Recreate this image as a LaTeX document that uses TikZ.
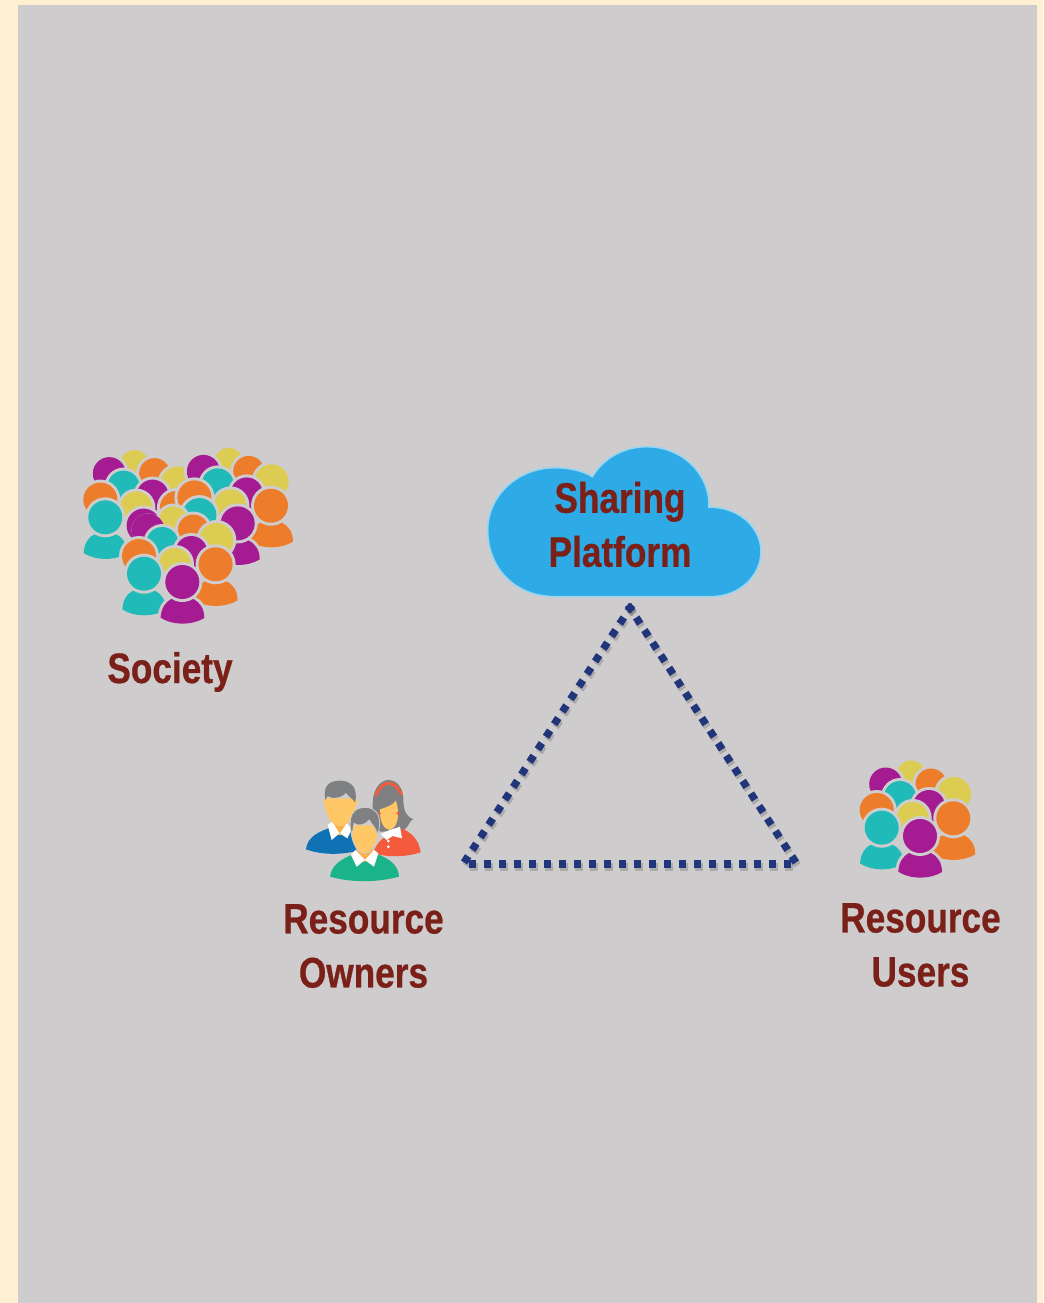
\documentclass[tikz,border=0pt]{standalone}
\usepackage{fontspec}
\setmainfont[FakeStretch=0.825,BoldFeatures={FakeBold=0.6}]{Liberation Sans}
\definecolor{bgc}{HTML}{CFCCCD}
\definecolor{frame}{HTML}{FFF0D2}
\definecolor{lbl}{HTML}{7A2018}
\definecolor{pur}{HTML}{A51C92}
\definecolor{tea}{HTML}{20BBB8}
\definecolor{ora}{HTML}{EE7D2B}
\definecolor{yel}{HTML}{DCCC52}
\definecolor{cld}{HTML}{2EABE6}
\definecolor{cldl}{HTML}{9AD5F0}
\definecolor{tri}{HTML}{21357A}
\definecolor{skin}{HTML}{FFC766}
\definecolor{neck}{HTML}{FBB04C}
\definecolor{hair}{HTML}{7F8082}
\definecolor{blu}{HTML}{0E72B5}
\definecolor{redd}{HTML}{F45B3C}
\definecolor{grn}{HTML}{1BB389}
% a head with its gap; the front figures also get shoulders
\newcommand\headicon[5]{%
 \begin{scope}[shift={(#1,#2)}]
  \path[fill=bgc] (0,0) circle (#4+#5);
  \path[fill=#3] (0,0) circle (#4);
 \end{scope}}
\newcommand\personicon[3]{%
 \begin{scope}[shift={(#1,#2)}]
  \def\bodypath{(-21.7,35.7) .. controls (-21,26) and (-17,20) .. (-11,17) -- (11,17) .. controls (17,20) and (22,26) .. (22,36) .. controls (10,43.5) and (-10,43.5) .. (-21.7,35.7) -- cycle}
  \path[draw=bgc,fill=bgc,line width=4.5pt] \bodypath;
  \path[fill=#3] \bodypath;
  \path[fill=bgc] (0,0) circle (20);
  \path[fill=#3] (0,0) circle (17);
 \end{scope}}
\newcommand\crowd[3]{%
 \begin{scope}[shift={(#1,#2)}]
  \headicon{911}{775}{yel}{14.5}{3}
  \headicon{885.7}{784}{pur}{16.5}{#3}
  \headicon{931}{784}{ora}{15.5}{3}
  \headicon{900}{797}{tea}{16}{3}
  \headicon{954}{794}{yel}{17}{3}
  \headicon{929}{806}{pur}{16}{3}
  \headicon{876.7}{810}{ora}{17}{3}
  \headicon{912.7}{818}{yel}{16}{3}
  \personicon{953.3}{818.3}{ora}
  \personicon{881.7}{827.7}{tea}
  \personicon{920}{836}{pur}
 \end{scope}}
\tikzset{
 lab/.style={text=lbl,font=\fontsize{32pt}{40.5pt}\selectfont\bfseries,align=center,inner sep=0pt},
 dots/.style={draw=tri,line width=5.6pt,dash pattern=on 5.6pt off 5.65pt},
 dotshadow/.style={draw=black,opacity=.17,line width=5.6pt,dash pattern=on 5.6pt off 5.65pt,transform canvas={xshift=1.1pt,yshift=-2.2pt}}
}
\begin{document}
\begin{tikzpicture}[x=.75pt,y=-.75pt]
\useasboundingbox (0,0) rectangle (1043,1303);
\fill[frame] (0,0) rectangle (1043,1303);
\fill[bgc] (18,5) rectangle (1037,1303);
% crowds
\crowd{-776.4}{-310.4}{3}
\crowd{-682.3}{-312.6}{3}
\crowd{-737.7}{-254}{0}
\crowd{0}{0}{3}
% cloud
\begin{scope}[shift={(475,435)},x=.25pt,y=-.25pt]
 \path[fill=cld,draw=cldl,line width=1.2pt]
  (240,485) .. controls (120,485) and (38,400) .. (38,285)
  .. controls (38,180) and (130,98) .. (240,98)
  .. controls (285,98) and (325,108) .. (352,125)
  .. controls (385,70) and (445,35) .. (515,35)
  .. controls (620,35) and (705,115) .. (702,216)
  .. controls (790,216) and (858,275) .. (858,350)
  .. controls (858,425) and (790,485) .. (710,485) -- cycle;
\end{scope}
\node[lab] (cloudlabel) at (620,524.5) {Sharing\\Platform};
% triangle
\coordinate (apexl) at (632,604.9);
\coordinate (apexr) at (628,604.9);
\coordinate (lft) at (464,862.6);
\coordinate (rgt) at (796,862.6);
\coordinate (bl) at (469,864);
\coordinate (br) at (791.5,864);
\draw[dotshadow] (apexl) -- (lft);
\draw[dotshadow] (apexr) -- (rgt);
\draw[dotshadow] (bl) -- (br);
\draw[dots] (apexl) -- (lft);
\draw[dots] (apexr) -- (rgt);
\draw[dots] (bl) -- (br);
% owners
\begin{scope}[shift={(290,770)},x=.25pt,y=-.25pt]
 % woman
 \fill[redd] (250,250) .. controls (258,215) and (285,195) .. (335,175) .. controls (370,190) and (388,215) .. (392,247) .. controls (345,262) and (295,262) .. (250,250) -- cycle;
 \fill[hair] (270,185) .. controls (250,150) and (246,125) .. (248,100) .. controls (248,60) and (270,30) .. (295,30) .. controls (325,30) and (342,60) .. (340,95) .. controls (342,125) and (350,140) .. (370,148) .. controls (360,150) and (358,165) .. (345,178) .. controls (325,175) and (300,185) .. (270,185) -- cycle;
 \draw[redd,line width=2.2pt] (257,78) .. controls (268,50) and (282,40) .. (296,40) .. controls (312,40) and (326,52) .. (334,75);
 \fill[skin] (270,118) .. controls (290,112) and (308,105) .. (318,92) .. controls (330,130) and (325,175) .. (298,180) .. controls (280,178) and (268,150) .. (270,118) -- cycle;
 \fill[white] (272,192) -- (300,180) -- (330,170) -- (336,205) -- (308,198) -- (290,210) -- cycle;
 \fill[redd] (268,130) circle (5) (324,130) circle (5);
 \fill[white] (295,213) circle (4.5) (295,230) circle (4.5);
 % left man
 \fill[blu] (48,238) .. controls (52,205) and (75,190) .. (115,175) -- (180,180) -- (200,243) .. controls (150,255) and (95,255) .. (48,238) -- cycle;
 \fill[neck] (125,140) -- (170,140) -- (172,195) -- (122,195) -- cycle;
 \fill[white] (113,165) -- (127,155) -- (148,190) -- (125,210) -- cycle;
 \fill[white] (170,160) -- (185,178) -- (172,205) -- (150,190) -- cycle;
 \fill[skin] (103,100) .. controls (98,92) and (104,85) .. (110,85) -- (192,85) .. controls (202,85) and (208,95) .. (198,105) .. controls (192,145) and (170,168) .. (150,168) .. controls (130,168) and (110,145) .. (103,100) -- cycle;
 \fill[hair] (106,90) .. controls (98,50) and (115,32) .. (150,32) .. controls (185,32) and (205,55) .. (195,98) .. controls (188,85) and (175,80) .. (168,68) .. controls (160,80) and (130,90) .. (113,78) -- cycle;
 % front man
 \fill[grn] (120,320) .. controls (125,285) and (150,270) .. (190,252) -- (262,252) .. controls (300,268) and (325,285) .. (327,320) .. controls (260,338) and (185,338) .. (120,320) -- cycle;
 \fill[neck] (200,225) -- (248,225) -- (250,275) -- (198,275) -- cycle;
 \fill[white] (183,255) -- (196,240) -- (225,270) -- (200,290) -- cycle;
 \fill[white] (252,240) -- (265,250) -- (252,290) -- (225,270) -- cycle;
 \path[fill=skin,draw=bgc,line width=.6pt] (183,165) -- (265,165) .. controls (268,215) and (245,250) .. (224,250) .. controls (203,250) and (180,215) .. (183,165) -- cycle;
 \path[fill=hair,draw=bgc,line width=.6pt] (186,195) .. controls (170,140) and (190,112) .. (225,112) .. controls (262,112) and (280,145) .. (262,195) .. controls (258,170) and (245,165) .. (238,150) .. controls (225,165) and (205,170) .. (192,160) -- cycle;
\end{scope}
% labels
\node[lab] (society) at (170,672) {Society};
\node[lab] (owners) at (363.5,946) {Resource\\Owners};
\node[lab] (users) at (920.5,945) {Resource\\Users};
\end{tikzpicture}
\end{document}
